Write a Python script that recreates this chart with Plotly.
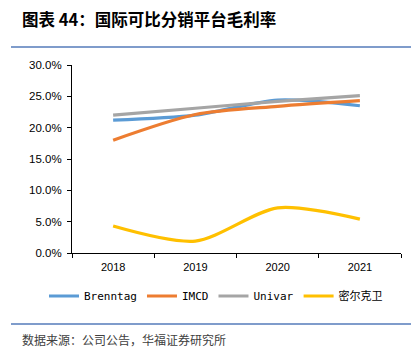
import plotly.graph_objects as go

years = ["2018", "2019", "2020", "2021"]
brenntag = [0.212, 0.220, 0.244, 0.235]
imcd = [0.180, 0.221, 0.234, 0.243]
univar = [0.220, 0.231, 0.242, 0.251]
milkwei = [0.043, 0.019, 0.072, 0.054]

names = ["Brenntag", "IMCD", "Univar", "密尔克卫"]
colors = ["#5B9BD5", "#ED7D31", "#A5A5A5", "#FFC000"]
series = [brenntag, imcd, univar, milkwei]

yticks = [0, 0.05, 0.10, 0.15, 0.20, 0.25, 0.30]
yticktext = ["0.0%", "5.0%", "10.0%", "15.0%", "20.0%", "25.0%", "30.0%"]

fig = go.Figure()
for n, c, s in zip(names, colors, series):
    fig.add_trace(go.Scatter(x=years, y=s, name=n, mode="lines",
                             line=dict(color=c, width=3.2, shape="spline", smoothing=0.8)))

W, H = 414, 357
L, R, T, B = 72, 401, 65, 253
pw, ph = R - L, B - T

def px(x):
    return (x - L) / pw

def py(y):
    return (B - y) / ph

fig.update_layout(
    width=W, height=H,
    margin=dict(l=L, r=W - R, t=T, b=H - B),
    paper_bgcolor="white", plot_bgcolor="white",
    font=dict(family="Liberation Sans, Arial, sans-serif", color="#000000", size=11),
    title=dict(text="<b>图表 44：国际可比分销平台毛利率</b>", x=22 / W, xanchor="left",
               y=1 - 20 / H, yanchor="middle",
               font=dict(family="Noto Sans CJK SC", size=16.5, color="#000000")),
    showlegend=True,
    legend=dict(orientation="h", x=px(44), xanchor="left", y=py(296), yanchor="middle",
                font=dict(family="DejaVu Sans Mono, Noto Sans CJK SC", size=11, color="#000000"),
                itemwidth=30, bgcolor="rgba(0,0,0,0)", tracegroupgap=0),
    xaxis=dict(type="category", range=[-0.5, 3.5], showgrid=False, showline=True,
               linecolor="#000000", linewidth=1, ticks="outside", tickson="boundaries",
               ticklen=4, tickcolor="#000000", tickfont=dict(size=11),
               ticklabelstandoff=4),
    yaxis=dict(range=[0, 0.30], tickvals=yticks, ticktext=yticktext, showgrid=False,
               showline=True, linecolor="#000000", linewidth=1, ticks="outside",
               ticklen=4, tickcolor="#000000", zeroline=False,
               tickfont=dict(size=11.5), ticklabelstandoff=3),
    shapes=[
        dict(type="line", xref="paper", yref="paper", x0=px(11), x1=px(411), y0=py(47), y1=py(47),
             line=dict(color="#7F9CCB", width=2)),
        dict(type="line", xref="paper", yref="paper", x0=px(11), x1=px(411), y0=py(324), y1=py(324),
             line=dict(color="#7F9CCB", width=2)),
    ],
    annotations=[
        dict(text="数据来源：公司公告，华福证券研究所", xref="paper", yref="paper",
             x=px(20), y=py(339), xanchor="left", yanchor="middle", showarrow=False,
             font=dict(family="Noto Sans CJK SC", size=12, color="#404040")),
    ],
)

fig.write_html("out.html", config={"displayModeBar": False},
               post_script="document.body.style.margin='0';")
